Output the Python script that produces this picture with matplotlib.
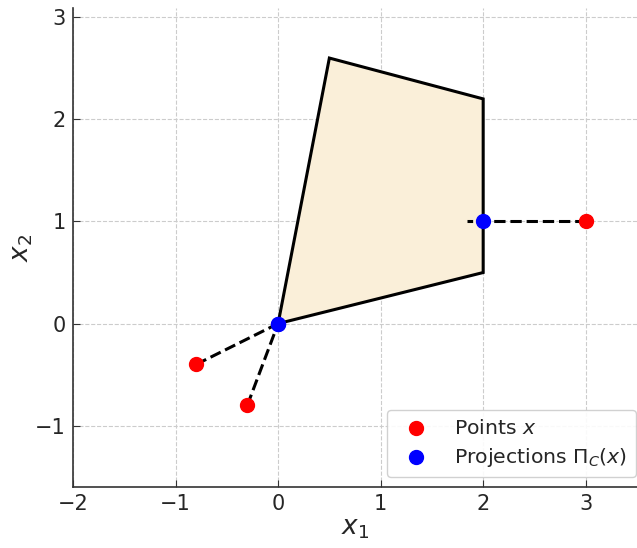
import matplotlib.pyplot as plt
from matplotlib.patches import Polygon

# convex set C (vertices in order)
poly_x = [0.0, 0.5, 2.0, 2.0]
poly_y = [0.0, 2.6, 2.2, 0.5]

# points and their projections onto C
pts_x = [-0.8, -0.3, 3.0]
pts_y = [-0.4, -0.8, 1.0]
proj_x = [0.0, 0.0, 2.0]
proj_y = [0.0, 0.0, 1.0]

# dashed connectors (start x, start y, end x, end y)
seg_x0 = [-0.8, -0.3, 3.0]
seg_y0 = [-0.4, -0.8, 1.0]
seg_x1 = [0.0, 0.0, 1.84]
seg_y1 = [0.0, 0.0, 1.0]

plt.rcParams['font.family'] = 'DejaVu Sans'

fig = plt.figure(figsize=(6.37, 5.48), dpi=100)
ax = fig.add_axes([0.1146, 0.1113, 0.8854, 0.8741])

ax.add_patch(Polygon(list(zip(poly_x, poly_y)), closed=True,
                     facecolor='#faefd9', edgecolor='black', lw=2.2, zorder=2))

for x0, y0, x1, y1 in zip(seg_x0, seg_y0, seg_x1, seg_y1):
    ax.plot([x0, x1], [y0, y1], '--', color='black', lw=2.2, zorder=3)

ax.scatter(pts_x, pts_y, s=100, color='red', zorder=4, label='Points $x$')
ax.scatter(proj_x, proj_y, s=100, color='blue', zorder=5,
           label=r'Projections $\Pi_C(x)$')

ax.set_xlim(-2, 3.5)
ax.set_ylim(-1.6, 3.09)
ax.set_xticks([-2, -1, 0, 1, 2, 3])
ax.set_yticks([-1, 0, 1, 2, 3])
ax.grid(True, ls='--', color='#cccccc', lw=0.8, zorder=0)
ax.set_axisbelow(True)

for s in ['top', 'right']:
    ax.spines[s].set_visible(False)
for s in ['left', 'bottom']:
    ax.spines[s].set_color('#333333')
    ax.spines[s].set_linewidth(1.2)
ax.tick_params(labelsize=15, colors='#333333', length=5, direction='in', pad=5)
ax.tick_params(labelcolor='#262626')

ax.set_xlabel('$x_1$', fontsize=19, color='#262626', labelpad=1)
ax.set_ylabel('$x_2$', fontsize=19, color='#262626', labelpad=0)

leg = ax.legend(loc='lower right', fontsize=14.7, handletextpad=0.9,
                borderpad=0.42, labelspacing=0.4, borderaxespad=0.0,
                framealpha=0.9, edgecolor='#cccccc',
                bbox_to_anchor=(0.998, 0.02))
for t in leg.get_texts():
    t.set_color('#262626')

fig.savefig('out.png', dpi=100)
